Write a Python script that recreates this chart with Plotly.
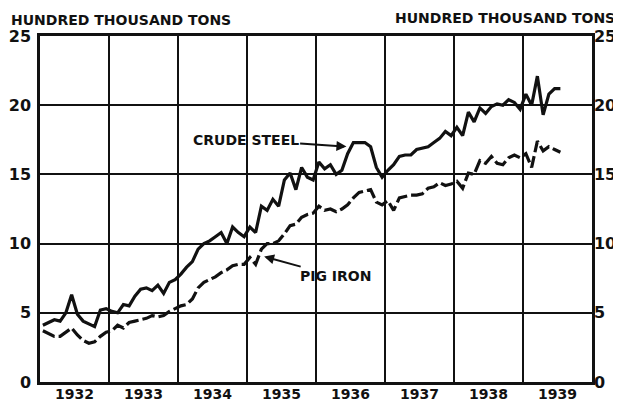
import plotly.graph_objects as go

years = [1932, 1933, 1934, 1935, 1936, 1937, 1938, 1939]
year_labels = [str(y) for y in years]
y_ticks = [0, 5, 10, 15, 20, 25]

steel = [
    4.1, 4.3, 4.5, 4.4, 5.0, 6.3, 4.9, 4.4, 4.2, 4.0, 5.2, 5.3,
    5.1, 5.0, 5.6, 5.5, 6.2, 6.7, 6.8, 6.6, 7.0, 6.4, 7.2, 7.4,
    7.8, 8.3, 8.7, 9.6, 10.0, 10.2, 10.5, 10.8, 10.0, 11.2, 10.8, 10.5,
    11.2, 10.8, 12.7, 12.4, 13.2, 12.7, 14.6, 15.1, 13.9, 15.5, 14.8, 14.6,
    15.9, 15.4, 15.7, 15.0, 15.3, 16.5, 17.3, 17.3, 17.3, 17.0, 15.5, 14.8,
    15.3, 15.7, 16.3, 16.4, 16.4, 16.8, 16.9, 17.0, 17.3, 17.6, 18.1, 17.8,
    18.4, 17.8, 19.5, 18.8, 19.8, 19.4, 19.9, 20.1, 20.0, 20.4, 20.2, 19.7,
    20.8, 20.0, 22.1, 19.3, 20.8, 21.2, 21.2,
]
pig_iron = [
    3.7, 3.5, 3.3, 3.3, 3.6, 3.9, 3.4, 3.0, 2.8, 2.9, 3.3, 3.6,
    3.7, 4.1, 3.9, 4.3, 4.4, 4.5, 4.6, 4.8, 4.7, 4.8, 5.1, 5.3,
    5.5, 5.6, 6.0, 6.8, 7.2, 7.4, 7.6, 7.9, 8.1, 8.4, 8.5, 8.5,
    9.0, 8.5, 9.6, 10.0, 10.0, 10.2, 10.7, 11.3, 11.4, 11.9, 12.1, 12.2,
    12.7, 12.4, 12.5, 12.3, 12.5, 12.8, 13.3, 13.7, 13.8, 13.9, 13.0, 12.8,
    13.1, 12.4, 13.3, 13.4, 13.5, 13.5, 13.6, 14.0, 14.1, 14.4, 14.2, 14.3,
    14.5, 14.0, 15.1, 15.0, 16.0, 15.8, 16.3, 15.8, 15.7, 16.2, 16.4, 16.2,
    16.5, 15.5, 17.4, 16.7, 17.0, 16.8, 16.6,
]

start_year = years[0]
x_steel = [start_year + (i + 0.5) / 12 for i in range(len(steel))]
x_pig = [start_year + (i + 0.5) / 12 for i in range(len(pig_iron))]

FONT = "DejaVu Sans"
INK = "#111111"

fig = go.Figure()
fig.add_trace(go.Scatter(x=x_steel, y=steel, mode="lines", name="Crude steel",
                         line=dict(color=INK, width=3.2)))
fig.add_trace(go.Scatter(x=x_pig, y=pig_iron, mode="lines", name="Pig iron",
                         line=dict(color=INK, width=3.2, dash="13px,4px"),
                         yaxis="y2"))

# page body has an 8px default margin, so the figure is 8px smaller and shifted
fig.update_layout(
    width=613, height=396,
    margin=dict(l=32, r=29, t=28, b=22),
    paper_bgcolor="white", plot_bgcolor="white",
    showlegend=False,
    font=dict(family=FONT, color=INK),
    xaxis=dict(
        range=[years[0], years[-1] + 1],
        tickvals=[y + 0.5 for y in years], ticktext=year_labels,
        tickfont=dict(family=FONT, size=14, color=INK, weight="bold"),
        ticks="", ticklen=0, showgrid=False, zeroline=False,
        showline=True, linecolor=INK, linewidth=2.5, mirror=True,
        minor=dict(tickvals=years[1:], showgrid=True, gridcolor=INK, gridwidth=2, ticks=""),
        automargin=False, ticklabelstandoff=-3,
    ),
    yaxis=dict(
        range=[0, 25], tickvals=y_ticks,
        tickfont=dict(family=FONT, size=16, color=INK, weight="bold"),
        showgrid=True, gridcolor=INK, gridwidth=2,
        zeroline=False, showline=True, linecolor=INK, linewidth=2.5, mirror=True,
        ticks="", ticklen=0, automargin=False, ticklabelstandoff=3,
    ),
    yaxis2=dict(
        range=[0, 25], tickvals=y_ticks, overlaying="y", side="right",
        tickfont=dict(family=FONT, size=16, color=INK, weight="bold"),
        showgrid=False, zeroline=False, showline=True, linecolor=INK, linewidth=2.5,
        ticks="", ticklen=0, automargin=False, ticklabelstandoff=-4,
    ),
    annotations=[
        dict(text="<b>HUNDRED THOUSAND TONS</b>", xref="paper", yref="paper",
             x=0, y=1.0, xshift=-31, yshift=16, xanchor="left", yanchor="middle",
             showarrow=False, font=dict(family=FONT, size=14, color=INK)),
        dict(text="<b>HUNDRED THOUSAND TONS</b>", xref="paper", yref="paper",
             x=1.0, y=1.0, xshift=25, yshift=18, xanchor="right", yanchor="middle",
             showarrow=False, font=dict(family=FONT, size=14, color=INK)),
        dict(text="<b>CRUDE STEEL</b>", x=1936.47, y=17.0, ax=1934.98, ay=17.5,
             axref="x", ayref="y", showarrow=True, arrowhead=2, arrowsize=1,
             arrowwidth=2, arrowcolor=INK, standoff=2,
             font=dict(family=FONT, size=14, color=INK)),
        dict(text="<b>PIG IRON</b>", x=1935.22, y=9.1, ax=1936.28, ay=7.65,
             axref="x", ayref="y", showarrow=True, arrowhead=2, arrowsize=1,
             arrowwidth=2, arrowcolor=INK, standoff=2,
             font=dict(family=FONT, size=14, color=INK)),
    ],
)

fig.write_html("out.html")
